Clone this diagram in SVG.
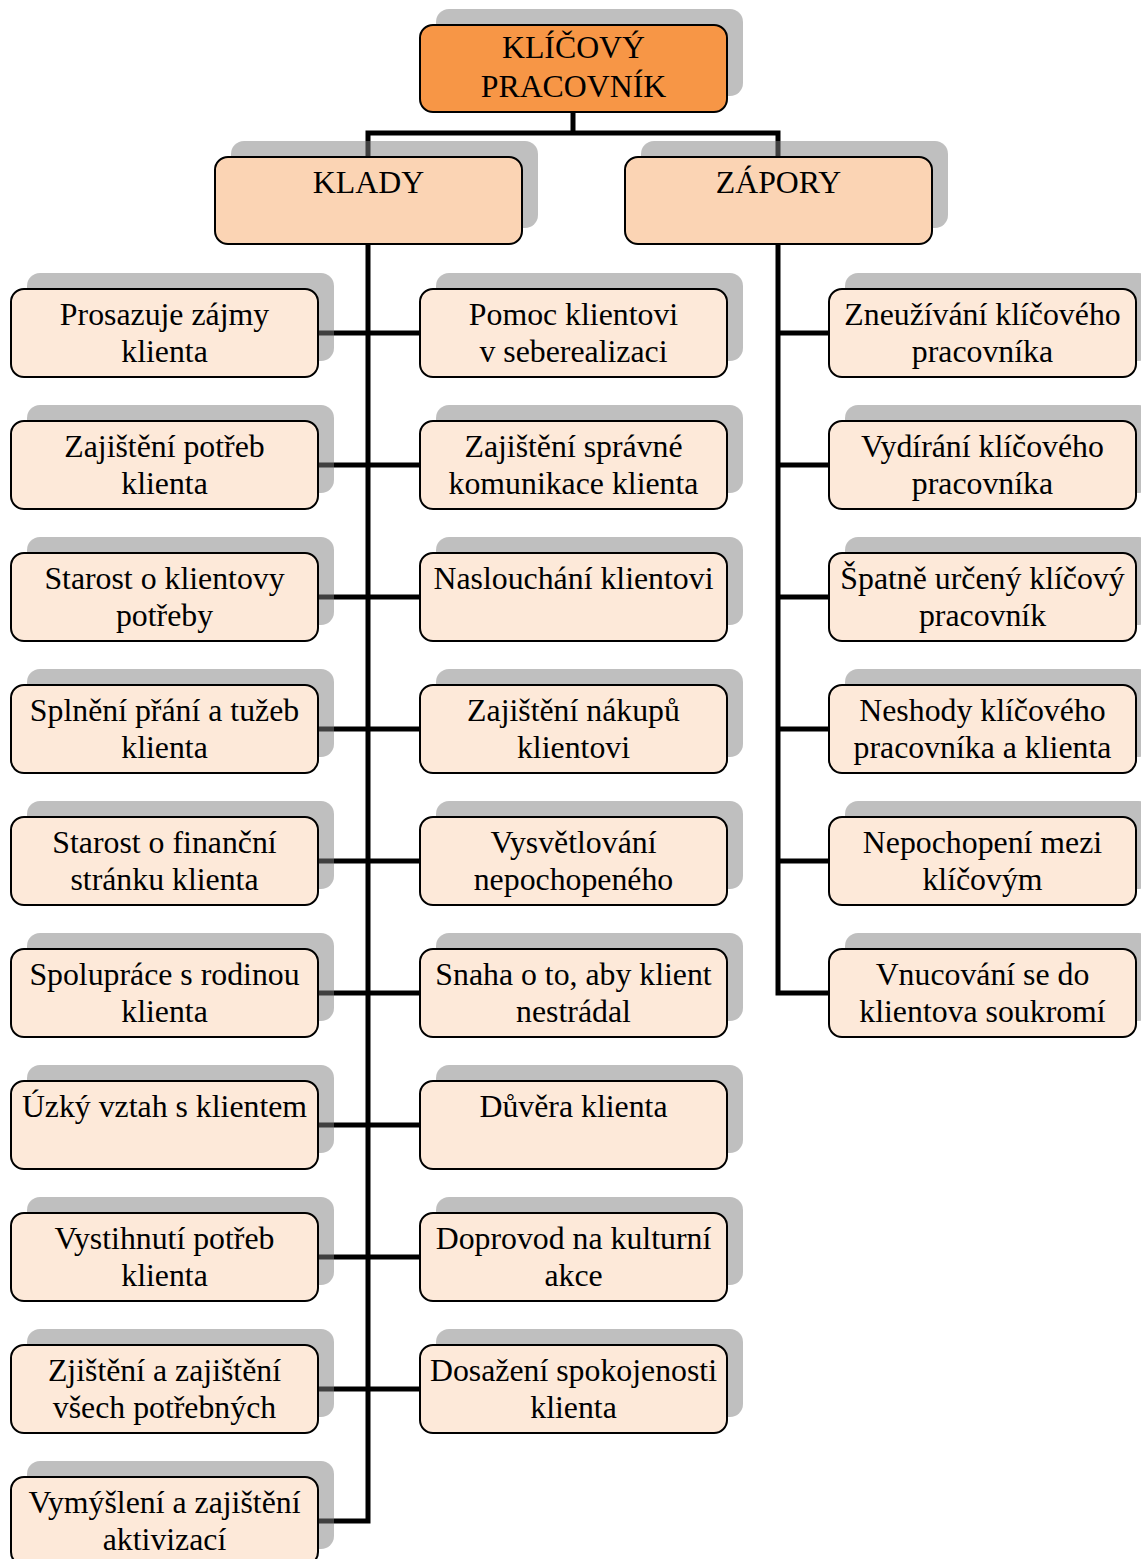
<svg xmlns="http://www.w3.org/2000/svg" width="1141" height="1559" viewBox="0 0 1141 1559">
<style>
.sh{fill:#808080;fill-opacity:0.5}
.bx{stroke:#000;stroke-width:2}
.top{fill:#F79646}
.mid{fill:#FBD4B4}
.leaf{fill:#FDE9D9}
.t{font-family:'Liberation Serif','Times New Roman',serif;font-size:31.8px;fill:#000;text-anchor:middle}
.cn{fill:none;stroke:#000;stroke-width:5}
</style>
<rect width="1141" height="1559" fill="#fff"/>
<g id="connectors" class="cn">
<path d="M573,113 V133"/>
<path d="M368,157 V133 H778 V157"/>
<path d="M368,244 V1521 H318"/>
<path d="M318,333 H420 M318,465 H420 M318,597 H420 M318,729 H420 M318,861 H420 M318,993 H420 M318,1125 H420 M318,1257 H420 M318,1389 H420"/>
<path d="M778,244 V993 H829"/>
<path d="M778,333 H829 M778,465 H829 M778,597 H829 M778,729 H829 M778,861 H829"/>
</g>
<g class="t">
<g id="n-root"><rect class="sh" x="436" y="9" width="307" height="87" rx="13"/><rect class="bx top" x="420" y="25" width="307" height="87" rx="13"/><text x="573.5" y="58">KLÍČOVÝ</text><text x="573.5" y="97">PRACOVNÍK</text></g>
<g id="n-klady"><rect class="sh" x="231" y="141" width="307" height="87" rx="13"/><rect class="bx mid" x="215" y="157" width="307" height="87" rx="13"/><text x="368.5" y="193">KLADY</text></g>
<g id="n-zapory"><rect class="sh" x="641" y="141" width="307" height="87" rx="13"/><rect class="bx mid" x="625" y="157" width="307" height="87" rx="13"/><text x="778.5" y="193">ZÁPORY</text></g>

<g id="l1"><rect class="sh" x="27" y="273" width="307" height="88" rx="13"/><rect class="bx leaf" x="11" y="289" width="307" height="88" rx="13"/><text x="164.5" y="325">Prosazuje zájmy</text><text x="164.5" y="362">klienta</text></g>
<g id="l2"><rect class="sh" x="27" y="405" width="307" height="88" rx="13"/><rect class="bx leaf" x="11" y="421" width="307" height="88" rx="13"/><text x="164.5" y="457">Zajištění potřeb</text><text x="164.5" y="494">klienta</text></g>
<g id="l3"><rect class="sh" x="27" y="537" width="307" height="88" rx="13"/><rect class="bx leaf" x="11" y="553" width="307" height="88" rx="13"/><text x="164.5" y="589">Starost o klientovy</text><text x="164.5" y="626">potřeby</text></g>
<g id="l4"><rect class="sh" x="27" y="669" width="307" height="88" rx="13"/><rect class="bx leaf" x="11" y="685" width="307" height="88" rx="13"/><text x="164.5" y="721">Splnění přání a tužeb</text><text x="164.5" y="758">klienta</text></g>
<g id="l5"><rect class="sh" x="27" y="801" width="307" height="88" rx="13"/><rect class="bx leaf" x="11" y="817" width="307" height="88" rx="13"/><text x="164.5" y="853">Starost o finanční</text><text x="164.5" y="890">stránku klienta</text></g>
<g id="l6"><rect class="sh" x="27" y="933" width="307" height="88" rx="13"/><rect class="bx leaf" x="11" y="949" width="307" height="88" rx="13"/><text x="164.5" y="985">Spolupráce s rodinou</text><text x="164.5" y="1022">klienta</text></g>
<g id="l7"><rect class="sh" x="27" y="1065" width="307" height="88" rx="13"/><rect class="bx leaf" x="11" y="1081" width="307" height="88" rx="13"/><text x="164.5" y="1117">Úzký vztah s klientem</text></g>
<g id="l8"><rect class="sh" x="27" y="1197" width="307" height="88" rx="13"/><rect class="bx leaf" x="11" y="1213" width="307" height="88" rx="13"/><text x="164.5" y="1249">Vystihnutí potřeb</text><text x="164.5" y="1286">klienta</text></g>
<g id="l9"><rect class="sh" x="27" y="1329" width="307" height="88" rx="13"/><rect class="bx leaf" x="11" y="1345" width="307" height="88" rx="13"/><text x="164.5" y="1381">Zjištění a zajištění</text><text x="164.5" y="1418">všech potřebných</text></g>
<g id="l10"><rect class="sh" x="27" y="1461" width="307" height="88" rx="13"/><rect class="bx leaf" x="11" y="1477" width="307" height="88" rx="13"/><text x="164.5" y="1513">Vymýšlení a zajištění</text><text x="164.5" y="1550">aktivizací</text></g>

<g id="m1"><rect class="sh" x="436" y="273" width="307" height="88" rx="13"/><rect class="bx leaf" x="420" y="289" width="307" height="88" rx="13"/><text x="573.5" y="325">Pomoc klientovi</text><text x="573.5" y="362">v seberealizaci</text></g>
<g id="m2"><rect class="sh" x="436" y="405" width="307" height="88" rx="13"/><rect class="bx leaf" x="420" y="421" width="307" height="88" rx="13"/><text x="573.5" y="457">Zajištění správné</text><text x="573.5" y="494">komunikace klienta</text></g>
<g id="m3"><rect class="sh" x="436" y="537" width="307" height="88" rx="13"/><rect class="bx leaf" x="420" y="553" width="307" height="88" rx="13"/><text x="573.5" y="589">Naslouchání klientovi</text></g>
<g id="m4"><rect class="sh" x="436" y="669" width="307" height="88" rx="13"/><rect class="bx leaf" x="420" y="685" width="307" height="88" rx="13"/><text x="573.5" y="721">Zajištění nákupů</text><text x="573.5" y="758">klientovi</text></g>
<g id="m5"><rect class="sh" x="436" y="801" width="307" height="88" rx="13"/><rect class="bx leaf" x="420" y="817" width="307" height="88" rx="13"/><text x="573.5" y="853">Vysvětlování</text><text x="573.5" y="890">nepochopeného</text></g>
<g id="m6"><rect class="sh" x="436" y="933" width="307" height="88" rx="13"/><rect class="bx leaf" x="420" y="949" width="307" height="88" rx="13"/><text x="573.5" y="985">Snaha o to, aby klient</text><text x="573.5" y="1022">nestrádal</text></g>
<g id="m7"><rect class="sh" x="436" y="1065" width="307" height="88" rx="13"/><rect class="bx leaf" x="420" y="1081" width="307" height="88" rx="13"/><text x="573.5" y="1117">Důvěra klienta</text></g>
<g id="m8"><rect class="sh" x="436" y="1197" width="307" height="88" rx="13"/><rect class="bx leaf" x="420" y="1213" width="307" height="88" rx="13"/><text x="573.5" y="1249">Doprovod na kulturní</text><text x="573.5" y="1286">akce</text></g>
<g id="m9"><rect class="sh" x="436" y="1329" width="307" height="88" rx="13"/><rect class="bx leaf" x="420" y="1345" width="307" height="88" rx="13"/><text x="573.5" y="1381">Dosažení spokojenosti</text><text x="573.5" y="1418">klienta</text></g>

<g id="r1"><rect class="sh" x="845" y="273" width="307" height="88" rx="13"/><rect class="bx leaf" x="829" y="289" width="307" height="88" rx="13"/><text x="982.5" y="325">Zneužívání klíčového</text><text x="982.5" y="362">pracovníka</text></g>
<g id="r2"><rect class="sh" x="845" y="405" width="307" height="88" rx="13"/><rect class="bx leaf" x="829" y="421" width="307" height="88" rx="13"/><text x="982.5" y="457">Vydírání klíčového</text><text x="982.5" y="494">pracovníka</text></g>
<g id="r3"><rect class="sh" x="845" y="537" width="307" height="88" rx="13"/><rect class="bx leaf" x="829" y="553" width="307" height="88" rx="13"/><text x="982.5" y="589">Špatně určený klíčový</text><text x="982.5" y="626">pracovník</text></g>
<g id="r4"><rect class="sh" x="845" y="669" width="307" height="88" rx="13"/><rect class="bx leaf" x="829" y="685" width="307" height="88" rx="13"/><text x="982.5" y="721">Neshody klíčového</text><text x="982.5" y="758">pracovníka a klienta</text></g>
<g id="r5"><rect class="sh" x="845" y="801" width="307" height="88" rx="13"/><rect class="bx leaf" x="829" y="817" width="307" height="88" rx="13"/><text x="982.5" y="853">Nepochopení mezi</text><text x="982.5" y="890">klíčovým</text></g>
<g id="r6"><rect class="sh" x="845" y="933" width="307" height="88" rx="13"/><rect class="bx leaf" x="829" y="949" width="307" height="88" rx="13"/><text x="982.5" y="985">Vnucování se do</text><text x="982.5" y="1022">klientova soukromí</text></g>
</g>
</svg>
